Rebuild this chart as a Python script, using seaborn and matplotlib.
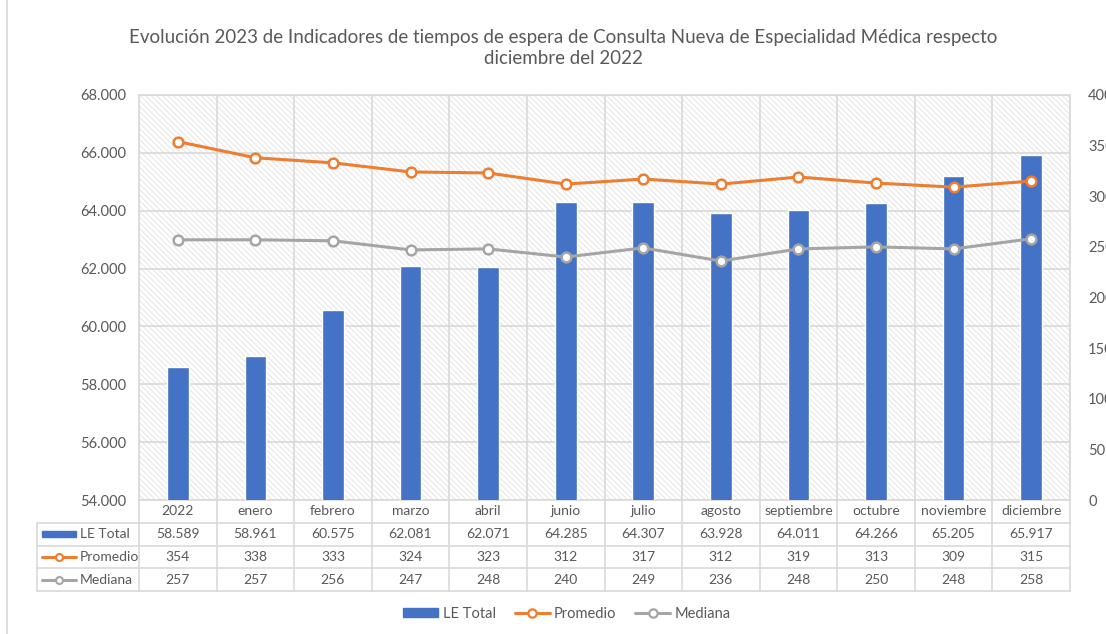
import numpy as np
import pandas as pd
import matplotlib
matplotlib.use("Agg")
import matplotlib.pyplot as plt
import matplotlib.transforms as mtransforms
from matplotlib.patches import Patch, Rectangle
from matplotlib.lines import Line2D
import seaborn as sns

# datos
meses = ["2022", "enero", "febrero", "marzo", "abril", "junio", "julio",
         "agosto", "septiembre", "octubre", "noviembre", "diciembre"]
le_total = [58589, 58961, 60575, 62081, 62071, 64285, 64307, 63928, 64011, 64266, 65205, 65917]
promedio = [354, 338, 333, 324, 323, 312, 317, 312, 319, 313, 309, 315]
mediana = [257, 257, 256, 247, 248, 240, 249, 236, 248, 250, 248, 258]

AZUL = "#4472C4"
NARANJA = "#ED7D31"
GRIS = "#A5A5A5"
TEXTO = "#595959"
LINEA = "#D9D9D9"

sns.set_theme(style="white")
plt.rcParams["font.family"] = ["Lato", "DejaVu Sans"]
plt.rcParams["hatch.linewidth"] = 0.5


def fmt_miles(v):
    return f"{v:,}".replace(",", ".")


df = pd.DataFrame({"mes": meses, "le": le_total, "prom": promedio, "med": mediana})
df["pos"] = np.arange(len(df))

fig = plt.figure(figsize=(11.06, 6.34), dpi=100)
ax = fig.add_axes([139 / 1106, 1 - 500 / 634, 931 / 1106, 405 / 634])

# fondo rayado del área de trazado
ax.patch.set_facecolor("white")
ax.patch.set_hatch("\\\\\\\\\\\\")
ax.patch.set_edgecolor("#DCDCDC")

sns.barplot(data=df, x="mes", y="le", color=AZUL, width=0.28, saturation=1, ax=ax, zorder=3)
ax.set_ylim(54000, 68000)
ax.set_yticks(np.arange(54000, 68001, 2000))
ax.set_yticklabels([fmt_miles(v) for v in range(54000, 68001, 2000)])
ax.set_xlim(-0.5, len(meses) - 0.5)
ax.set_xticks(np.arange(-0.5, len(meses)), minor=True)
ax.set_xticks([])
ax.grid(axis="y", which="major", color=LINEA, lw=1.2)
ax.grid(axis="x", which="minor", color=LINEA, lw=1.2)
ax.set_axisbelow(True)
ax.tick_params(axis="y", length=0, pad=9.5, labelsize=10.5, labelcolor=TEXTO)
ax.tick_params(axis="x", which="both", length=0)
ax.set_xlabel("")
ax.set_ylabel("")
for s in ax.spines.values():
    s.set_color(LINEA)
    s.set_linewidth(1.2)

ax2 = ax.twinx()
sns.lineplot(data=df, x="pos", y="prom", ax=ax2, color=NARANJA, lw=2.2, marker="o",
             markersize=7, markerfacecolor="white", markeredgecolor=NARANJA, markeredgewidth=1.8)
sns.lineplot(data=df, x="pos", y="med", ax=ax2, color=GRIS, lw=2.2, marker="o",
             markersize=7, markerfacecolor="white", markeredgecolor=GRIS, markeredgewidth=1.8)
ax2.set_ylim(0, 400)
ax2.set_yticks(np.arange(0, 401, 50))
ax2.set_xlim(-0.5, len(meses) - 0.5)
ax2.tick_params(axis="y", length=0, pad=13, labelsize=10.5, labelcolor=TEXTO)
ax2.set_xlabel("")
ax2.set_ylabel("")
for s in ax2.spines.values():
    s.set_visible(False)

# tabla de datos bajo el eje
tr = mtransforms.blended_transform_factory(ax.transData, ax.transAxes)
h = 22.75 / 405
n = len(meses)
x_izq = -0.5 - 102 / 77.6
kw = dict(color=LINEA, lw=1.2, transform=tr, clip_on=False)
for i in range(n + 1):
    ax.plot([i - 0.5, i - 0.5], [0, -4 * h], **kw)
ax.plot([x_izq, x_izq], [-h, -4 * h], **kw)
for r in range(1, 5):
    ax.plot([x_izq, n - 0.5], [-r * h, -r * h], **kw)

filas = [
    ("LE Total", [fmt_miles(v) for v in le_total]),
    ("Promedio", [str(v) for v in promedio]),
    ("Mediana", [str(v) for v in mediana]),
]
for i, m in enumerate(meses):
    ax.text(i, -0.5 * h, m, transform=tr, ha="center", va="center", fontsize=10, color=TEXTO)
for r, (nombre, vals) in enumerate(filas, start=1):
    yc = -(r + 0.5) * h
    for i, v in enumerate(vals):
        ax.text(i, yc, v, transform=tr, ha="center", va="center", fontsize=10, color=TEXTO)
    ax.text(-1.26, yc, nombre, transform=tr, ha="left", va="center", fontsize=10, color=TEXTO)

# claves de leyenda dentro de la tabla
k0, k1 = -1.75, -1.31
ax.add_patch(Rectangle((k0, -1.5 * h - 3.2 / 405), k1 - k0, 6.4 / 405, transform=tr,
                       color=AZUL, clip_on=False))
for r, col in ((2, NARANJA), (3, GRIS)):
    yc = -(r + 0.5) * h
    ax.plot([k0, k1], [yc, yc], transform=tr, color=col, lw=2.2, clip_on=False)
    ax.plot([(k0 + k1) / 2], [yc], transform=tr, marker="o", markersize=5, color=col,
            markerfacecolor="white", markeredgewidth=1.5, clip_on=False)

# leyenda inferior
handles = [
    Patch(facecolor=AZUL, edgecolor=AZUL),
    Line2D([], [], color=NARANJA, lw=2.2, marker="o", markersize=6,
           markerfacecolor="white", markeredgewidth=1.6),
    Line2D([], [], color=GRIS, lw=2.2, marker="o", markersize=6,
           markerfacecolor="white", markeredgewidth=1.6),
]
fig.legend(handles, ["LE Total", "Promedio", "Mediana"], loc="center", ncol=3,
           bbox_to_anchor=(567 / 1106, 1 - 614 / 634), frameon=False, fontsize=10.5,
           labelcolor=TEXTO, handlelength=2.4, handletextpad=0.3, columnspacing=1.3,
           handleheight=0.55)

fig.text(563 / 1106, 1 - 48 / 634,
         "Evolución 2023 de Indicadores de tiempos de espera de Consulta Nueva de Especialidad Médica respecto\n"
         "diciembre del 2022",
         ha="center", va="center", fontsize=13.5, color=TEXTO, linespacing=1.3)

# borde izquierdo del área del gráfico
fig.add_artist(Line2D([7 / 1106, 7 / 1106], [0, 1], color=LINEA, lw=1.2))

fig.savefig("out.png", dpi=100)
